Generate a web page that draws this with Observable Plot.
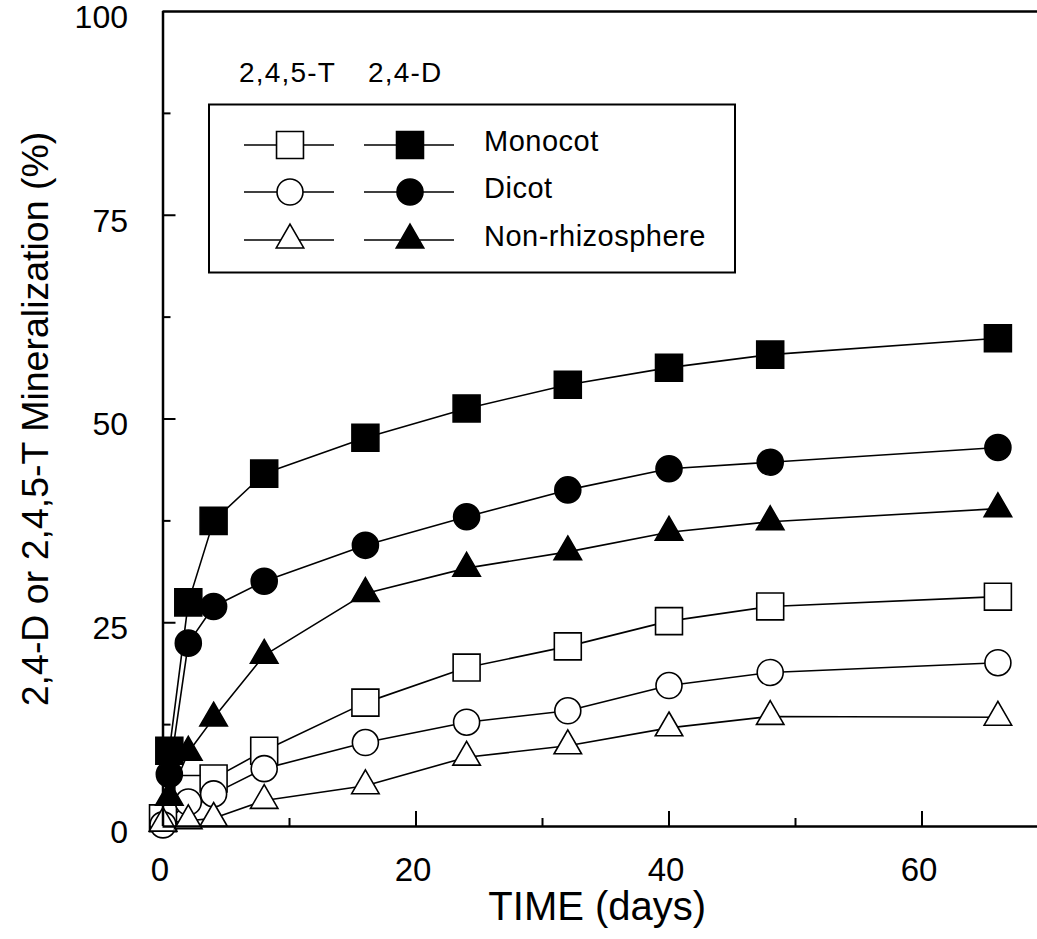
<!DOCTYPE html>
<html><head><meta charset="utf-8">
<script src="https://cdn.jsdelivr.net/npm/d3@7"></script>
<script src="https://cdn.jsdelivr.net/npm/@observablehq/plot@0.6"></script>
<style>
body{margin:0;background:#fff}
svg{font-family:"Liberation Sans",Arial,Helvetica,sans-serif}
</style>
</head><body><div id="chart"></div>
<script>
// ---- data ----
const days245T = [0, 2, 4, 8, 16, 24, 32, 40, 48, 66];
const days24D  = [0.5, 2, 4, 8, 16, 24, 32, 40, 48, 66];
const monocot245T  = [1.0, 4.6, 5.9, 9.3, 15.2, 19.5, 22.1, 25.2, 27.0, 28.2];
const dicot245T    = [0.2, 3.0, 4.0, 7.1, 10.3, 12.8, 14.2, 17.3, 18.9, 20.1];
const nonRhizo245T = [0.4, 0.7, 1.0, 3.2, 5.0, 8.5, 9.9, 12.1, 13.5, 13.4];
const monocot24D   = [9.3, 27.5, 37.5, 43.3, 47.7, 51.3, 54.2, 56.3, 57.9, 59.9];
const dicot24D     = [6.4, 22.5, 27.0, 30.1, 34.5, 38.0, 41.3, 43.9, 44.7, 46.5];
const nonRhizo24D  = [3.6, 9.1, 13.3, 21.0, 28.6, 31.7, 33.7, 36.1, 37.4, 39.0];
const soils = ["Monocot", "Dicot", "Non-rhizosphere"];
const herbicides = ["2,4,5-T", "2,4-D"];
const xTicks = [0, 20, 40, 60];
const xMinorTicks = [10, 30, 50];
const yTicks = [0, 25, 50, 75, 100];
const yMinorTicks = [12.5, 37.5, 62.5, 87.5];
const xLabel = "TIME (days)";
const yLabel = "2,4-D or 2,4,5-T Mineralization (%)";

// ---- build table ----
const seriesValues = {
  "2,4,5-T": {Monocot: monocot245T, Dicot: dicot245T, "Non-rhizosphere": nonRhizo245T},
  "2,4-D":   {Monocot: monocot24D,  Dicot: dicot24D,  "Non-rhizosphere": nonRhizo24D}
};
const seriesDays = {"2,4,5-T": days245T, "2,4-D": days24D};
const rows = [];
for (const h of herbicides) for (const s of soils)
  seriesValues[h][s].forEach((v, i) => rows.push({herbicide: h, soil: s, day: seriesDays[h][i], value: v, key: h + "|" + s}));

// ---- style ----
const symbolOf = {Monocot: "square", Dicot: "circle", "Non-rhizosphere": "triangle"};
const rOf = {Monocot: 15.2, Dicot: 13, "Non-rhizosphere": 10.2};
const fillOf = {"2,4,5-T": "white", "2,4-D": "black"};
const FONT = '"Liberation Sans",Arial,Helvetica,sans-serif';

const dotMarks = [];
for (const h of herbicides) for (const s of soils)
  dotMarks.push(Plot.dot(rows.filter(d => d.herbicide === h && d.soil === s), {
    x: "day", y: "value", symbol: () => symbolOf[s], r: rOf[s],
    fill: fillOf[h], stroke: "black", strokeWidth: 1.6
  }));

const chart = Plot.plot({
  width: 1037, height: 939,
  marginLeft: 162.5, marginRight: 0, marginTop: 11, marginBottom: 113,
  style: {fontFamily: FONT, background: "white", color: "black"},
  x: {domain: [0, 69.13], axis: null},
  y: {domain: [0, 100], axis: null},
  symbol: {type: "identity"},
  marks: [
    Plot.line(rows, {x: "day", y: "value", z: "key", stroke: "black", strokeWidth: 1.6}),
    ...dotMarks,
    Plot.ruleY([0, 100], {stroke: "black", strokeWidth: 2.5}),
    Plot.ruleX([0], {stroke: "black", strokeWidth: 2.5}),
    Plot.ruleX(xTicks.filter(d => d > 0), {y1: 0, y2: 0, insetTop: -15, stroke: "black", strokeWidth: 2}),
    Plot.ruleX(xMinorTicks, {y1: 0, y2: 0, insetTop: -8, stroke: "black", strokeWidth: 2}),
    Plot.ruleY(yTicks.filter(d => d > 0 && d < 100), {x1: 0, x2: 0, insetRight: -13, stroke: "black", strokeWidth: 2}),
    Plot.ruleY(yMinorTicks, {x1: 0, x2: 0, insetRight: -8, stroke: "black", strokeWidth: 2}),
    Plot.axisX({ticks: xTicks, tickSize: 0, tickPadding: 31, fontSize: 33, dx: -3, label: null, tickFormat: d => String(d)}),
    Plot.axisY({ticks: yTicks, tickSize: 0, tickPadding: 23, fontSize: 32, dx: -12, dy: 6, label: null, tickFormat: d => String(d)}),
    Plot.text([xLabel], {frameAnchor: "bottom", dy: 93, dx: -3, fontSize: 40}),
    Plot.text([yLabel], {frameAnchor: "left", textAnchor: "middle", rotate: -90, dx: -127, fontSize: 37.5})
  ]
});
document.getElementById("chart").appendChild(chart);

// ---- legend (drawn into the same svg) ----
const svg = d3.select(chart);
const lg = svg.append("g").attr("font-family", FONT).attr("fill", "black").attr("text-anchor", "start");
const box = {x: 209, y: 104.5, w: 526, h: 168};
lg.append("rect").attr("x", box.x).attr("y", box.y).attr("width", box.w).attr("height", box.h)
  .attr("fill", "none").attr("stroke", "black").attr("stroke-width", 2);
const headerX = [239, 368];
herbicides.forEach((h, i) => lg.append("text").attr("x", headerX[i]).attr("y", 82)
  .attr("font-size", 28).style("letter-spacing", "1.2px").text(h));
const rowY = [145, 192, 240];
const symX = [290, 410];
const d3sym = {square: d3.symbolSquare, circle: d3.symbolCircle, triangle: d3.symbolTriangle};
soils.forEach((s, r) => {
  herbicides.forEach((h, c) => {
    lg.append("line").attr("x1", symX[c] - 46).attr("x2", symX[c] + 44)
      .attr("y1", rowY[r]).attr("y2", rowY[r]).attr("stroke", "black").attr("stroke-width", 1.6);
    lg.append("path").attr("transform", `translate(${symX[c]},${rowY[r]})`)
      .attr("d", d3.symbol(d3sym[symbolOf[s]], Math.PI * rOf[s] * rOf[s])())
      .attr("fill", fillOf[h]).attr("stroke", "black").attr("stroke-width", 1.6);
  });
  lg.append("text").attr("x", 484).attr("y", rowY[r] + 6).attr("font-size", 29)
    .style("letter-spacing", "0.5px").text(s);
});
</script>
</body></html>
